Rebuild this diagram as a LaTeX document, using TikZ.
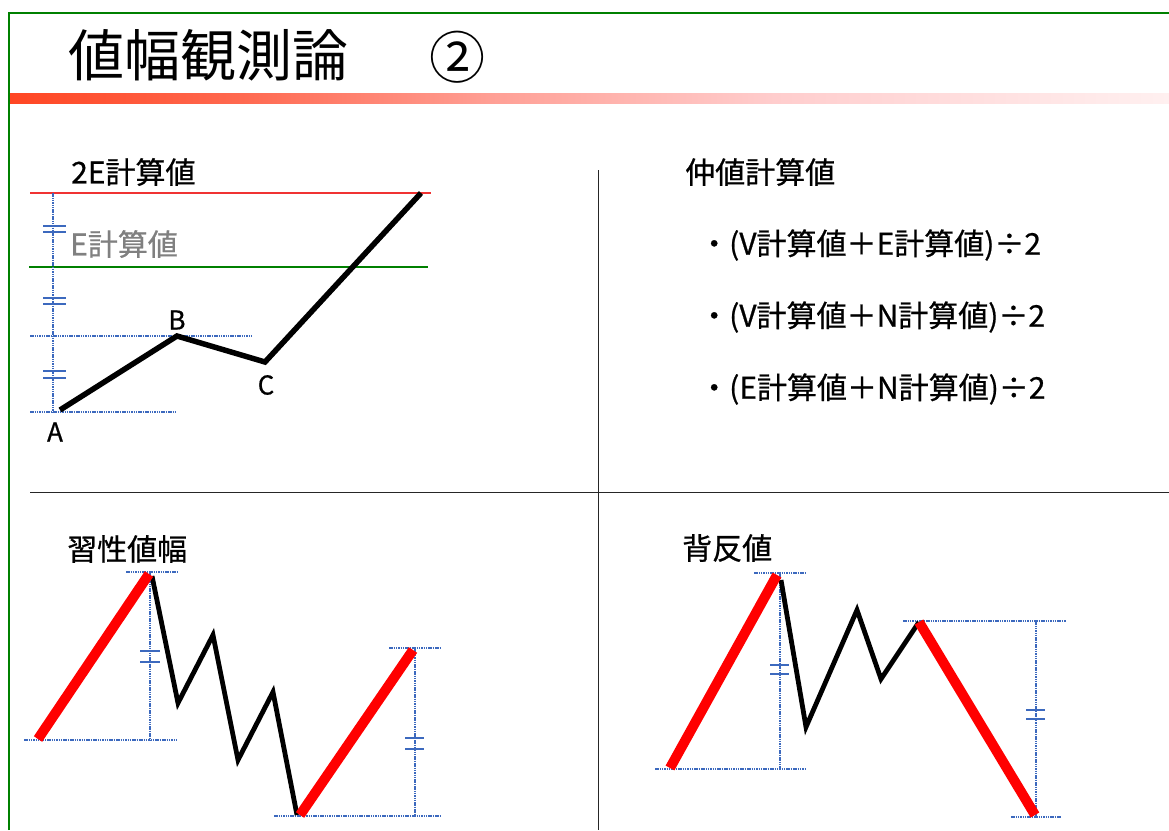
\documentclass[tikz,border=0pt]{standalone}
\usepackage{fontspec}
\setmainfont{Noto Sans CJK JP}
\newfontfamily\lblfont[FakeBold=0.7]{Noto Sans CJK JP}
\definecolor{frameg}{RGB}{0,128,0}
\definecolor{dimblue}{RGB}{60,105,190}
\definecolor{lred}{RGB}{255,0,0}
\definecolor{hline}{RGB}{240,50,50}
\definecolor{gtxt}{RGB}{128,128,128}
\definecolor{barA}{RGB}{255,70,35}
\definecolor{barAB}{RGB}{255,105,80}
\definecolor{barB}{RGB}{255,160,150}
\definecolor{barC}{RGB}{255,205,205}
\definecolor{barD}{RGB}{255,240,240}
\pgfdeclarehorizontalshading{titlebar}{100bp}{color(0bp)=(barA); color(25bp)=(barA); color(35bp)=(barAB); color(46bp)=(barB); color(58bp)=(barC); color(75bp)=(barD); color(100bp)=(barD)}
\tikzset{
  lbl/.style={anchor=west, inner sep=0pt, font=\lblfont\fontsize{30}{30}\selectfont},
  pt/.style={inner sep=0pt, font=\lblfont\fontsize{26}{26}\selectfont},
  dim/.style={draw=dimblue, line width=1.2pt, dash pattern=on 1.5pt off 0.8pt},
  tick/.style={draw=dimblue, line width=1.1pt},
  wave/.style={draw=black, line width=5.5pt, line join=miter},
  thin wave/.style={draw=black, line width=4.8pt, line join=miter},
  redleg/.style={draw=lred, line width=10pt},
  divider/.style={draw=black!85, line width=1pt}
}
\begin{document}
\begin{tikzpicture}[x=1pt,y=-1pt]
\useasboundingbox (0,0) rectangle (1169,830);
% frame
\draw[frameg, line width=2pt] (9,830) -- (9,13) -- (1169,13);
% title
\node[anchor=west, inner sep=0pt, font=\fontsize{56}{56}\selectfont] (title) at (68,55) {値幅観測論};
\node[inner sep=0pt, font=\fontsize{56}{56}\selectfont] (num) at (457,57) {②};
\shade[shading=titlebar] (10,93) rectangle (1169,103);
% dividers
\coordinate (vt) at (598,170); \coordinate (vb) at (598,830);
\coordinate (hl) at (30,492); \coordinate (hr) at (1169,492);
\draw[divider] (vt) -- (vb);
\draw[divider] (hl) -- (hr);

% ---------- top left ----------
\node[lbl] (t2e) at (71,172) {2E計算値};
\node[lbl, text=gtxt] (te) at (70,244) {E計算値};
\coordinate (r1) at (30,193); \coordinate (r2) at (431,193);
\draw[hline, line width=1.4pt] (r1) -- (r2);
\coordinate (g1) at (29,267); \coordinate (g2) at (428,267);
\draw[frameg, line width=1.2pt] (g1) -- (g2);
\coordinate (v1) at (53,193); \coordinate (v2) at (53,412);
\draw[dim] (v1) -- (v2);
\coordinate (hb1) at (30,336); \coordinate (hb2) at (251,336);
\draw[dim] (hb1) -- (hb2);
\coordinate (ha1) at (30,412); \coordinate (ha2) at (177,412);
\draw[dim] (ha1) -- (ha2);
\foreach \y in {226,232,298,304,371,378} \draw[tick] (43,\y) -- (66,\y);
\coordinate (A) at (60,410); \coordinate (B) at (177,336);
\coordinate (C) at (265,362); \coordinate (D) at (421,193);
\draw[wave] (A) -- (B) -- (C) -- (D);
\node[pt] (la) at (55,432) {A};
\node[pt] (lb) at (177,320) {B};
\node[pt] (lc) at (266,385) {C};

% ---------- top right ----------
\node[lbl] (tmid) at (685,172) {仲値計算値};
\node[lbl] (f1) at (699,245) {・(V計算値＋E計算値)÷2};
\node[lbl] (f2) at (699,317) {・(V計算値＋N計算値)÷2};
\node[lbl] (f3) at (699,389) {・(E計算値＋N計算値)÷2};

% ---------- bottom left ----------
\node[lbl] (thab) at (67,549) {習性値幅};
\coordinate (p0) at (38,739); \coordinate (p1) at (149,574);
\coordinate (q1) at (152,576); \coordinate (q2) at (178,703);
\coordinate (q3) at (213,635); \coordinate (q4) at (238,760);
\coordinate (q5) at (273,692); \coordinate (q6) at (297,815);
\coordinate (s1) at (300,815); \coordinate (s2) at (413,650);
\draw[dim] (126,572) -- (177,572);
\draw[dim] (24,740) -- (177,740);
\draw[dim] (150,572) -- (150,740);
\foreach \y in {651,662} \draw[tick] (140,\y) -- (160,\y);
\draw[dim] (389,648) -- (441,648);
\draw[dim] (274,816) -- (441,816);
\draw[dim] (415,648) -- (415,816);
\foreach \y in {738,749} \draw[tick] (405,\y) -- (424,\y);
\draw[thin wave] (q1) -- (q2) -- (q3) -- (q4) -- (q5) -- (q6);
\draw[redleg] (p0) -- (p1);
\draw[redleg] (s1) -- (s2);

% ---------- bottom right ----------
\node[lbl] (thai) at (682,548) {背反値};
\coordinate (u0) at (670,768); \coordinate (u1) at (777,575);
\coordinate (w1) at (781,580); \coordinate (w2) at (806,727);
\coordinate (w3) at (857,610); \coordinate (w4) at (881,679);
\coordinate (w5) at (919,622);
\coordinate (z1) at (1035,815);
\draw[dim] (754,573) -- (805,573);
\draw[dim] (655,769) -- (805,769);
\draw[dim] (780,573) -- (780,769);
\foreach \y in {665,674} \draw[tick] (770,\y) -- (789,\y);
\draw[dim] (903,621) -- (1066,621);
\draw[dim] (1011,817) -- (1061,817);
\draw[dim] (1036,621) -- (1036,817);
\foreach \y in {710,719} \draw[tick] (1026,\y) -- (1045,\y);
\draw[thin wave] (w1) -- (w2) -- (w3) -- (w4) -- (w5);
\draw[redleg] (u0) -- (u1);
\draw[redleg] (w5) -- (z1);
\end{tikzpicture}
\end{document}
